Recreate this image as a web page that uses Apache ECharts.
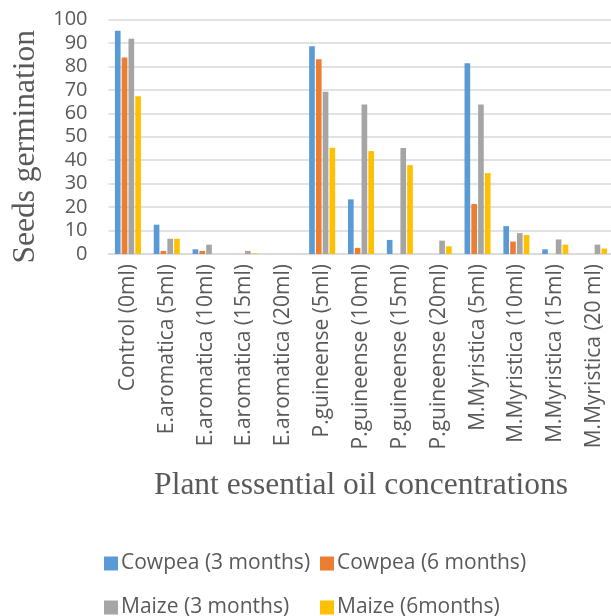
<!DOCTYPE html>
<html>
<head>
<meta charset="utf-8">
<script src="https://cdn.jsdelivr.net/npm/echarts@6/dist/echarts.min.js"></script>
<style>html,body{margin:0;padding:0;background:#fff;}#c{width:611px;height:616px;}</style>
</head>
<body>
<div id="c"></div>
<script>
var categories = ["Control (0ml)","E.aromatica (5ml)","E.aromatica (10ml)","E.aromatica (15ml)","E.aromatica (20ml)","P.guineense (5ml)","P.guineense (10ml)","P.guineense (15ml)","P.guineense (20ml)","M.Myristica (5ml)","M.Myristica (10ml)","M.Myristica (15ml)","M.Myristica (20 ml)"];
var seriesNames = ["Cowpea (3 months)","Cowpea (6 months)","Maize (3 months)","Maize (6months)"];
var cowpea3 = [95.2, 12.5, 2, 0, 0, 88.6, 23.3, 6, 0, 81.3, 11.9, 2, 0];
var cowpea6 = [83.8, 1.3, 1.3, 0, 0, 83, 2.6, 0, 0, 21.3, 5.3, 0, 0];
var maize3 = [91.8, 6.5, 4, 1.3, 0, 69.2, 63.8, 45.2, 5.7, 63.8, 8.9, 6.2, 4];
var maize6 = [67.3, 6.5, 0, 0.3, 0, 45.3, 43.9, 37.9, 3.3, 34.5, 8.1, 4, 2.3];
var yTicks = [0, 100, 10];
var colors = ["#5B9BD5","#ED7D31","#A5A5A5","#FFC000"];
var values = [cowpea3, cowpea6, maize3, maize6];

var chart = echarts.init(document.getElementById('c'), null, {renderer:'canvas'});
var txt = '#595959';
var sans = "'Open Sans', sans-serif";
var serif = "'Liberation Serif', 'Times New Roman', serif";
var legendPos = [[99,548],[315,548],[99,592],[315,592]];
var legends = seriesNames.map(function(n,i){
  return {data:[n], left:legendPos[i][0], top:legendPos[i][1], itemWidth:14, itemHeight:14, itemGap:5,
    icon:'rect', textStyle:{color:txt, fontSize:21, fontFamily:sans, padding:[0,0,0,-2]}, selectedMode:false};
});
chart.setOption({
  animation:false,
  color: colors,
  grid:{left:108.5, top:19.5, width:505, height:234.5, containLabel:false, outerBoundsMode:'none'},
  legend: legends,
  xAxis:{type:'category', data:categories,
    axisLine:{lineStyle:{color:'#D9D9D9', width:1.5}}, axisTick:{show:false},
    axisLabel:{rotate:90, interval:0, color:txt, fontSize:21, fontFamily:sans, margin:10},
    name:'Plant essential oil concentrations', nameLocation:'middle', nameGap:216,
    nameTextStyle:{fontFamily:serif, fontSize:31.5, color:txt}},
  yAxis:{type:'value', min:yTicks[0], max:yTicks[1], interval:yTicks[2],
    axisLine:{show:false}, axisTick:{show:false},
    axisLabel:{color:txt, fontSize:20, fontFamily:sans, margin:21},
    splitLine:{lineStyle:{color:'#D9D9D9', width:1.5}},
    name:'Seeds germination', nameLocation:'middle', nameGap:67,
    nameTextStyle:{fontFamily:serif, fontSize:31.5, color:txt, padding:[0,20,0,0]}},
  series: values.map(function(v,i){
    return {type:'bar', name:seriesNames[i], data:v, barGap:'20%', barCategoryGap:'33%'};
  })
});
</script>
</body>
</html>
